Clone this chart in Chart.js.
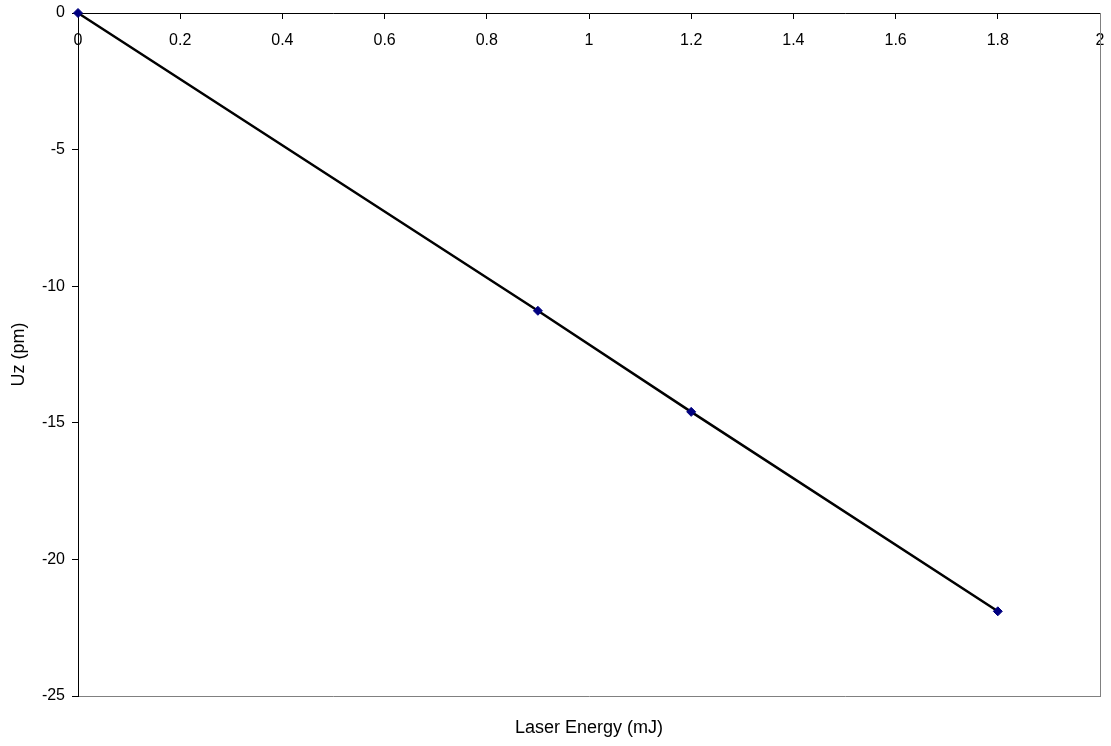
<!DOCTYPE html>
<html>
<head>
<meta charset="utf-8">
<script src="https://cdn.jsdelivr.net/npm/chart.js@4"></script>
<style>
  html, body { margin: 0; padding: 0; background: #fff; }
  #wrap { width: 1111px; height: 746px; }
</style>
</head>
<body>
<div id="wrap"><canvas id="chart"></canvas></div>
<script>
// laser energy (mJ) vs displacement Uz (pm)
const energy = [0, 0.9, 1.2, 1.8];
const uz = [0, -10.9, -14.6, -21.9];
const xTitle = "Laser Energy (mJ)";
const yTitle = "Uz (pm)";

const points = energy.map((e, i) => ({ x: e, y: uz[i] }));
const tickFont = { family: "Liberation Sans, Arial, sans-serif", size: 16 };
const titleFont = { family: "Liberation Sans, Arial, sans-serif", size: 18 };

// keep the plot box where the original has it, labels may hang over the edges
function noOverhang(scale) {
    scale.paddingTop = 0;
    scale.paddingBottom = 0;
    scale.paddingLeft = 0;
    scale.paddingRight = 0;
}

new Chart(document.getElementById("chart"), {
    type: "line",
    data: {
        datasets: [{
            data: points,
            borderColor: "#000000",
            borderWidth: 2.5,
            pointStyle: "rectRot",
            pointRadius: 4.5,
            pointBackgroundColor: "#000080",
            pointBorderColor: "#000080",
            pointBorderWidth: 1,
            tension: 0,
            clip: false
        }]
    },
    options: {
        responsive: true,
        maintainAspectRatio: false,
        animation: false,
        layout: { padding: { top: 13, left: 0, right: 0, bottom: 0 } },
        plugins: { legend: { display: false }, tooltip: { enabled: false } },
        scales: {
            x: {
                type: "linear",
                position: "bottom",
                min: 0, max: 2,
                ticks: { display: false },
                grid: { display: false },
                border: { color: "#808080", width: 1 },
                title: { display: true, text: xTitle, color: "#000", font: titleFont, padding: { top: 0, bottom: 7 } },
                afterFit: function (scale) { scale.height = 50; noOverhang(scale); }
            },
            xTop: {
                type: "linear",
                axis: "x",
                position: { y: 0 },
                min: 0, max: 2,
                ticks: {
                    stepSize: 0.2,
                    color: "#000",
                    font: tickFont,
                    padding: 13,
                    maxRotation: 0,
                    callback: v => +v.toFixed(1)
                },
                grid: { drawOnChartArea: false, tickLength: 5, color: "#000" },
                border: { color: "#000", width: 1 },
                afterFit: noOverhang
            },
            y: {
                min: -25, max: 0,
                ticks: { stepSize: 5, color: "#000", font: tickFont, padding: 7 },
                grid: { drawOnChartArea: false, tickLength: 6, color: "#000" },
                border: { color: "#000", width: 1 },
                title: { display: true, text: yTitle, color: "#000", font: titleFont, padding: { top: 8, bottom: 0 } },
                afterFit: function (scale) { scale.width = 78; noOverhang(scale); }
            },
            yRight: {
                type: "linear",
                position: "right",
                ticks: { display: false },
                grid: { display: false },
                border: { color: "#808080", width: 1 },
                afterFit: function (scale) { scale.width = 11; noOverhang(scale); }
            }
        }
    }
});
</script>
</body>
</html>
